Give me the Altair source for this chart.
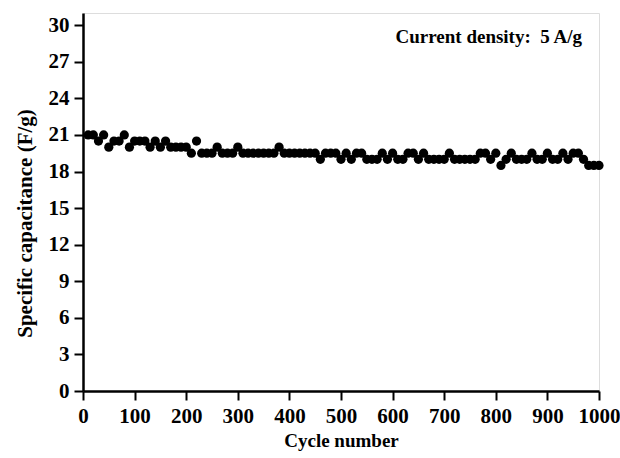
import altair as alt
import pandas as pd

cycles = list(range(10, 1001, 10))
capacitance = [
    21, 21, 20.5, 21, 20, 20.5, 20.5, 21, 20, 20.5,
    20.5, 20.5, 20, 20.5, 20, 20.5, 20, 20, 20, 20,
    19.5, 20.5, 19.5, 19.5, 19.5, 20, 19.5, 19.5, 19.5, 20,
    19.5, 19.5, 19.5, 19.5, 19.5, 19.5, 19.5, 20, 19.5, 19.5,
    19.5, 19.5, 19.5, 19.5, 19.5, 19, 19.5, 19.5, 19.5, 19,
    19.5, 19, 19.5, 19.5, 19, 19, 19, 19.5, 19, 19.5,
    19, 19, 19.5, 19.5, 19, 19.5, 19, 19, 19, 19,
    19.5, 19, 19, 19, 19, 19, 19.5, 19.5, 19, 19.5,
    18.5, 19, 19.5, 19, 19, 19, 19.5, 19, 19, 19.5,
    19, 19, 19.5, 19, 19.5, 19.5, 19, 18.5, 18.5, 18.5,
]
x_ticks = [0, 100, 200, 300, 400, 500, 600, 700, 800, 900, 1000]
y_ticks = [0, 3, 6, 9, 12, 15, 18, 21, 24, 27, 30]
note = "Current density:\u00a0\u00a05 A/g"

df = pd.DataFrame({"cycle": cycles, "cap": capacitance})
FONT = "Liberation Serif"

x_enc = alt.X(
    "cycle:Q",
    scale=alt.Scale(domain=[0, 1000], nice=False, zero=False),
    axis=alt.Axis(
        values=x_ticks, tickCount=len(x_ticks), title="Cycle number", grid=False, format="d",
        labelFont=FONT, labelFontWeight="bold", labelFontSize=21, labelColor="black",
        titleFont=FONT, titleFontWeight="bold", titleFontSize=19, titleColor="black",
        titlePadding=5, labelPadding=5, tickSize=9, tickWidth=2, tickColor="black",
        domainColor="black", domainWidth=2.5, labelFlush=False, labelOverlap=False,
    ),
)
y_enc = alt.Y(
    "cap:Q",
    scale=alt.Scale(domain=[0, 31], nice=False),
    axis=alt.Axis(
        values=y_ticks, tickCount=len(y_ticks), title="Specific capacitance (F/g)", grid=False, format="d",
        labelFont=FONT, labelFontWeight="bold", labelFontSize=21, labelColor="black",
        titleFont=FONT, titleFontWeight="bold", titleFontSize=21, titleColor="black",
        titlePadding=13, titleY=210, labelPadding=5, tickSize=9, tickWidth=2, tickColor="black",
        domainColor="black", domainWidth=2.5, labelFlush=False, labelOverlap=False,
    ),
)

points = alt.Chart(df).mark_circle(size=85, color="black", opacity=1).encode(
    x=x_enc, y=y_enc
)

text = alt.Chart(pd.DataFrame({"t": [note]})).mark_text(
    align="right", baseline="middle", font=FONT, fontWeight="bold",
    fontSize=19, color="black"
).encode(x=alt.datum(967), y=alt.datum(29.0), text="t:N")

chart = (points + text).properties(
    width=516, height=378,
    autosize=alt.AutoSizeParams(type="none"),
    padding={"left": 83, "top": 13, "right": 21, "bottom": 67},
).configure_view(stroke="black", strokeWidth=2.5).configure(background="white")

chart.save("out.html", embed_options={"renderer": "svg", "actions": False})
